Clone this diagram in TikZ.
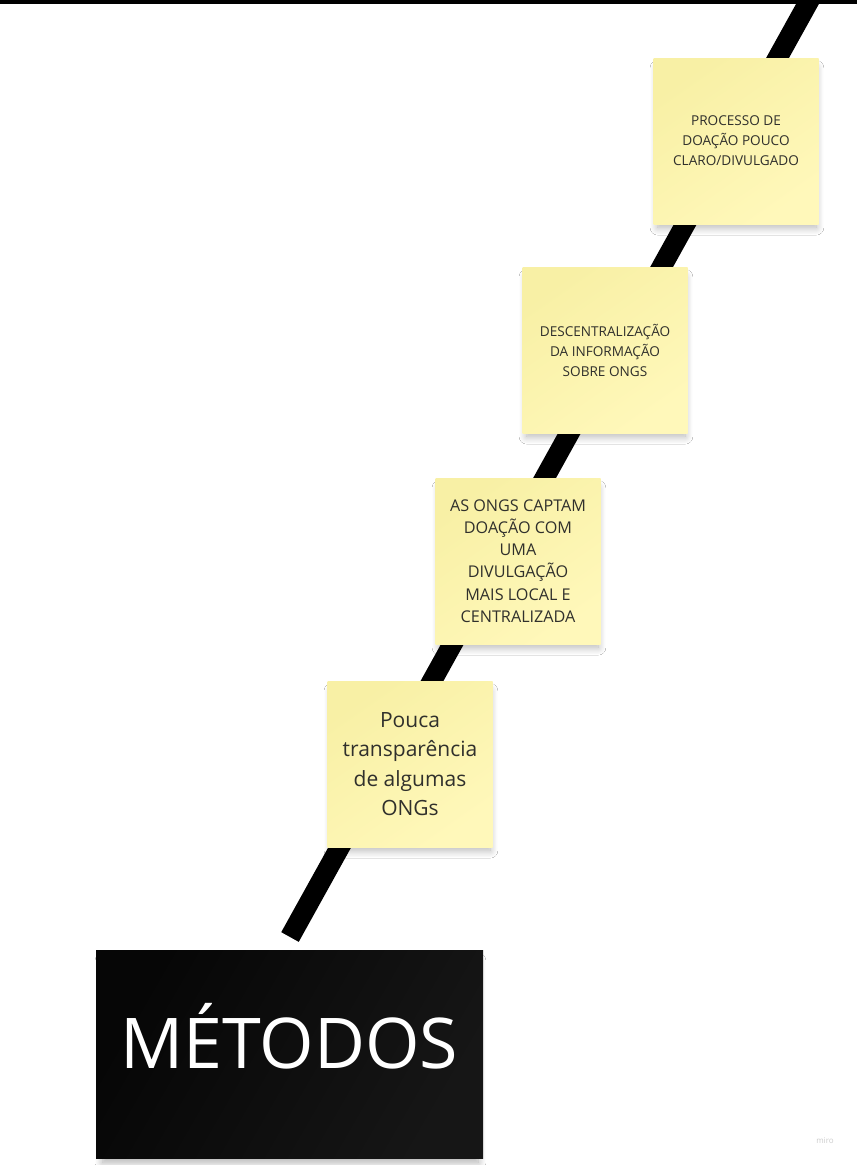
\documentclass[tikz,border=0pt]{standalone}
\usepackage{fontspec}
\setmainfont{Open Sans}
\usetikzlibrary{shadows.blur}

\definecolor{noteTop}{RGB}{248,240,165}
\definecolor{noteBottom}{RGB}{255,248,186}
\definecolor{noteInk}{RGB}{48,48,44}
\definecolor{boardInk}{RGB}{6,6,6}
\definecolor{boardShine}{RGB}{22,22,22}
\definecolor{brandGray}{RGB}{205,205,205}

\tikzset{
  sticky/.style={rectangle, minimum width=165pt, minimum height=166pt,
    inner sep=0pt, top color=noteTop, bottom color=noteBottom,
    shading angle=35, text=noteInk, align=center,
    blur shadow={shadow xshift=1pt, shadow yshift=-7pt,
      shadow blur radius=8pt, shadow blur steps=14, shadow opacity=30,
      shadow scale=0.96}},
  smallnote/.style={font=\fontsize{13.6}{20}\selectfont},
  midnote/.style={font=\fontsize{16.2}{22.3}\selectfont},
  bignote/.style={font=\fontsize{21}{29.3}\selectfont},
  board/.style={rectangle, minimum width=387pt, minimum height=208pt,
    inner sep=0pt, top color=boardInk, bottom color=boardShine,
    shading angle=60,
    blur shadow={shadow xshift=1pt, shadow yshift=-8pt,
      shadow blur radius=8pt, shadow blur steps=14, shadow opacity=32,
      shadow scale=0.97}},
  rail/.style={line width=20pt, line cap=butt, black},
}

\begin{document}
\begin{tikzpicture}[x=1pt, y=-1pt]
  \useasboundingbox (0,0) rectangle (857,1165);
  \fill[white] (0,0) rectangle (857,1165);

  % the diagonal track, running off the top edge
  \coordinate (railfoot) at (290,937);
  \coordinate (railhead) at (818,-15);
  \begin{scope}
    \clip (0,0) rectangle (857,1165);
    \draw[rail] (railfoot) -- (railhead);
  \end{scope}
  \fill[black] (0,0) rectangle (857,4);

  % sticky notes along the track
  \node[sticky, smallnote] (process) at (736,141)
    {PROCESSO DE\\DOAÇÃO POUCO\\CLARO/DIVULGADO};
  \node[sticky, smallnote] (decentral) at (605,350)
    {DESCENTRALIZAÇÃO\\DA INFORMAÇÃO\\SOBRE ONGS};
  \node[sticky, midnote] (local) at (518,561)
    {AS ONGS CAPTAM\\DOAÇÃO COM\\UMA\\DIVULGAÇÃO\\MAIS LOCAL E\\CENTRALIZADA};
  \node[sticky, bignote] (transparency) at (410,764)
    {Pouca\\transparência\\de algumas\\ONGs};

  % title board
  \node[board] (methods) at (289.5,1054) {};
  \node[anchor=base, text=white, inner sep=0pt,
    font=\fontsize{70}{70}\selectfont] (methodsLabel) at (289,1068) {MÉTODOS};

  \node[text=brandGray, font=\fontsize{8}{8}\selectfont] (brand) at (825,1141) {miro};
\end{tikzpicture}
\end{document}
